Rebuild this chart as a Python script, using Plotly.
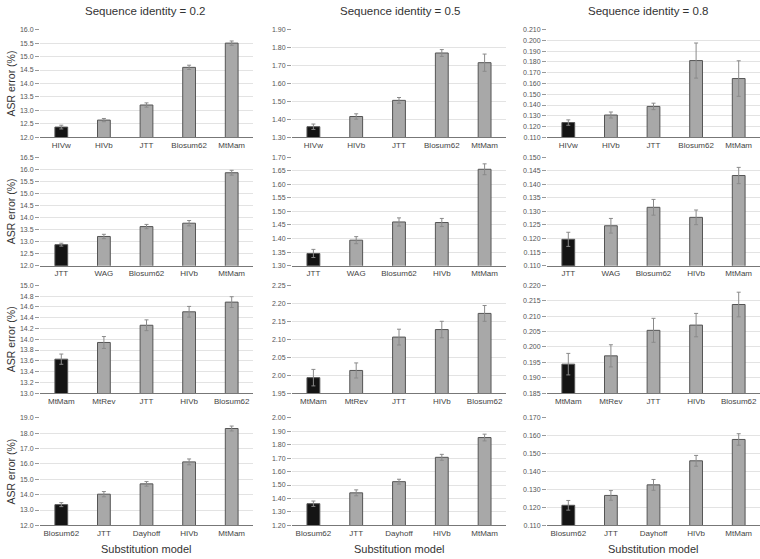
import plotly.graph_objects as go
from plotly.subplots import make_subplots

# ---- data ----
titles = ["Sequence identity = 0.2", "Sequence identity = 0.5", "Sequence identity = 0.8"]

row1_models = ["HIVw", "HIVb", "JTT", "Blosum62", "MtMam"]
row2_models = ["JTT", "WAG", "Blosum62", "HIVb", "MtMam"]
row3_models = ["MtMam", "MtRev", "JTT", "HIVb", "Blosum62"]
row4_models = ["Blosum62", "JTT", "Dayhoff", "HIVb", "MtMam"]

r1c1_vals = [12.38, 12.64, 13.20, 14.60, 15.50]
r1c1_err = [0.07, 0.06, 0.08, 0.08, 0.08]
r1c2_vals = [1.359, 1.416, 1.506, 1.770, 1.716]
r1c2_err = [0.015, 0.015, 0.016, 0.019, 0.048]
r1c3_vals = [0.1237, 0.1307, 0.1387, 0.1813, 0.1646]
r1c3_err = [0.0025, 0.0028, 0.003, 0.0163, 0.0165]

r2c1_vals = [12.87, 13.21, 13.62, 13.76, 15.85]
r2c1_err = [0.06, 0.09, 0.09, 0.11, 0.10]
r2c2_vals = [1.345, 1.394, 1.461, 1.459, 1.655]
r2c2_err = [0.015, 0.013, 0.015, 0.015, 0.02]
r2c3_vals = [0.1197, 0.1247, 0.1315, 0.1278, 0.1432]
r2c3_err = [0.0026, 0.0027, 0.0029, 0.0027, 0.003]

r3c1_vals = [13.63, 13.94, 14.26, 14.51, 14.69]
r3c1_err = [0.095, 0.11, 0.10, 0.10, 0.10]
r3c2_vals = [1.993, 2.013, 2.106, 2.127, 2.172]
r3c2_err = [0.023, 0.021, 0.022, 0.023, 0.022]
r3c3_vals = [0.1944, 0.1971, 0.2054, 0.2071, 0.2138]
r3c3_err = [0.0035, 0.0036, 0.0039, 0.0038, 0.004]

r4c1_vals = [13.35, 14.03, 14.70, 16.13, 18.30]
r4c1_err = [0.13, 0.17, 0.15, 0.19, 0.16]
r4c2_vals = [1.361, 1.442, 1.525, 1.706, 1.853]
r4c2_err = [0.02, 0.022, 0.018, 0.022, 0.025]
r4c3_vals = [0.1212, 0.1267, 0.1326, 0.1460, 0.1579]
r4c3_err = [0.0027, 0.0027, 0.003, 0.003, 0.0032]

# axis ranges / ticks per panel
ranges = [
    [(12.0, 16.0, 0.5), (1.30, 1.90, 0.10), (0.110, 0.210, 0.010)],
    [(12.0, 16.5, 0.5), (1.30, 1.70, 0.05), (0.110, 0.150, 0.005)],
    [(13.0, 15.0, 0.2), (1.95, 2.25, 0.05), (0.185, 0.220, 0.005)],
    [(12.0, 19.0, 1.0), (1.20, 2.00, 0.10), (0.110, 0.170, 0.010)],
]
tickfmts = [".1f", ".2f", ".3f"]

models = [row1_models, row2_models, row3_models, row4_models]
vals = [
    [(r1c1_vals, r1c1_err), (r1c2_vals, r1c2_err), (r1c3_vals, r1c3_err)],
    [(r2c1_vals, r2c1_err), (r2c2_vals, r2c2_err), (r2c3_vals, r2c3_err)],
    [(r3c1_vals, r3c1_err), (r3c2_vals, r3c2_err), (r3c3_vals, r3c3_err)],
    [(r4c1_vals, r4c1_err), (r4c2_vals, r4c2_err), (r4c3_vals, r4c3_err)],
]

W, H = 760, 559
col_px = [(40, 253), (292, 506), (547, 760)]
row_px = [(26, 135), (155, 265), (285, 394), (419, 528)]

fig = make_subplots(rows=4, cols=3)
FONT = "Liberation Sans, Arial, Helvetica, sans-serif"

for r in range(4):
    for c in range(3):
        v, e = vals[r][c]
        colors = ["#141414"] + ["#a8a8a8"] * 4
        fig.add_trace(go.Bar(
            x=models[r], y=v,
            marker=dict(color=colors, line=dict(color="#555555", width=1)),
            width=0.3,
            error_y=dict(type="data", array=e, color="#8a8a8a", thickness=1, width=2),
            showlegend=False,
        ), row=r + 1, col=c + 1)
        lo, hi, step = ranges[r][c]
        idx = r * 3 + c + 1
        xa = "xaxis" if idx == 1 else f"xaxis{idx}"
        ya = "yaxis" if idx == 1 else f"yaxis{idx}"
        x0, x1 = col_px[c]
        y0, y1 = row_px[r]
        fig.layout[xa].update(
            domain=[x0 / W, x1 / W],
            showline=True, linecolor="#777777", linewidth=1,
            ticks="", showgrid=False,
            tickfont=dict(family=FONT, size=8, color="#444444"),
        )
        fig.layout[ya].update(
            domain=[1 - y1 / H, 1 - y0 / H],
            range=[lo, hi], dtick=step, tick0=lo,
            tickformat=tickfmts[c],
            showgrid=True, gridcolor="#e3e3e3", gridwidth=1,
            zeroline=False, showline=False,
            ticks="outside", ticklen=4, tickcolor="#999999",
            tickfont=dict(family=FONT, size=7, color="#555555"),
        )

annotations = []
title_x = [145, 400, 648]
for c in range(3):
    annotations.append(dict(
        text=titles[c], x=title_x[c] / W, y=1 - 7 / H, xref="paper", yref="paper",
        showarrow=False, xanchor="center", yanchor="middle",
        font=dict(family=FONT, size=11.5, color="#333333")))
    annotations.append(dict(
        text="Substitution model", x=(col_px[c][0] + col_px[c][1]) / 2 / W, y=1 - 552 / H,
        xref="paper", yref="paper", showarrow=False, xanchor="center", yanchor="middle",
        font=dict(family=FONT, size=11, color="#333333")))
for r in range(4):
    y0, y1 = row_px[r]
    annotations.append(dict(
        text="ASR error (%)", x=11 / W, y=1 - (y0 + y1) / 2 / H, xref="paper", yref="paper",
        showarrow=False, textangle=-90, xanchor="center", yanchor="middle",
        font=dict(family=FONT, size=10.5, color="#333333")))

fig.update_layout(
    width=W, height=H,
    margin=dict(l=0, r=0, t=0, b=0),
    paper_bgcolor="white", plot_bgcolor="white",
    annotations=annotations,
    bargap=0.7,
)
fig.write_html(
    "out.html",
    config={"displayModeBar": False},
    post_script="document.body.style.margin='0';document.body.style.padding='0';"
                "document.body.style.overflow='hidden';",
)
